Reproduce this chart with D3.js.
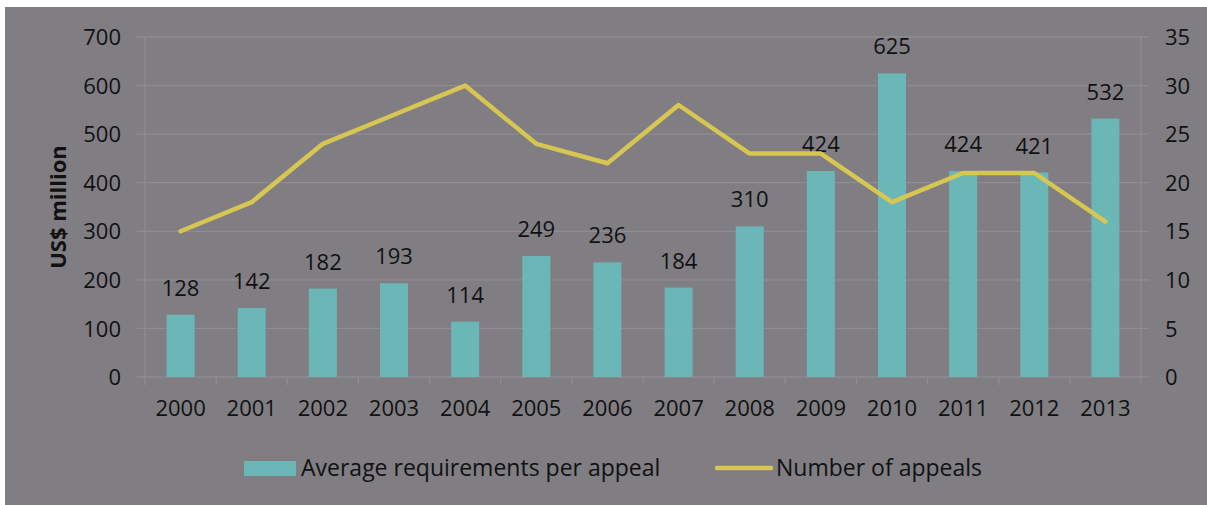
<!DOCTYPE html>
<html>
<head>
<meta charset="utf-8">
<script src="https://cdn.jsdelivr.net/npm/d3@7"></script>
<style>
  html, body { margin: 0; padding: 0; background: #ffffff; }
  svg { display: block; }
  text { font-family: "Open Sans", sans-serif; fill: #111111; }
</style>
</head>
<body>
<svg id="chart" width="1207" height="505"></svg>
<script>
const years = ["2000","2001","2002","2003","2004","2005","2006","2007","2008","2009","2010","2011","2012","2013"];
const avgRequirements = [128,142,182,193,114,249,236,184,310,424,625,424,421,532];
const numAppeals = [15,18,24,27,30,24,22,28,23,23,18,21,21,16];
const leftTicks = [0,100,200,300,400,500,600,700];
const rightTicks = [0,5,10,15,20,25,30,35];

(function () {
const svg = d3.select("#chart");
const W = 1207, H = 505;
const bg = "#807e83", grid = "#8e8d91", barColor = "#6bb6b7", lineColor = "#d7c652";

svg.append("rect").attr("x", 5).attr("y", 7).attr("width", W - 5).attr("height", H - 7).attr("fill", bg);

const pl = 145, pr = 1141, pt = 37, pb = 377;

const xBand = d3.scaleBand().domain(years).range([pl, pr]);
const yL = d3.scaleLinear().domain([0, 700]).range([pb, pt]);
const yR = d3.scaleLinear().domain([0, 35]).range([pb, pt]);

// gridlines
svg.append("g").selectAll("line").data(leftTicks).join("line")
  .attr("x1", pl - 8).attr("x2", pr + 8)
  .attr("y1", d => yL(d)).attr("y2", d => yL(d))
  .attr("stroke", grid).attr("stroke-width", 1.3);

// axis lines
svg.append("line").attr("x1", pl).attr("x2", pl).attr("y1", pt).attr("y2", pb + 8).attr("stroke", grid).attr("stroke-width", 1.3);
svg.append("line").attr("x1", pr).attr("x2", pr).attr("y1", pt).attr("y2", pb + 8).attr("stroke", grid).attr("stroke-width", 1.3);
// category ticks
svg.append("g").selectAll("line").data(years.slice(1)).join("line")
  .attr("x1", d => xBand(d)).attr("x2", d => xBand(d))
  .attr("y1", pb).attr("y2", pb + 8)
  .attr("stroke", grid).attr("stroke-width", 1.3);

// left axis labels
const axL = d3.axisLeft(yL).tickValues(leftTicks).tickSize(0).tickPadding(0);
const gL = svg.append("g").attr("transform", `translate(${pl - 24},0)`).call(axL);
gL.select(".domain").remove();
gL.selectAll("text").style("font-size", "22px").style("font-family", "'Open Sans', sans-serif").attr("fill", "#111").attr("dy", "0.35em");

// right axis labels
const axR = d3.axisRight(yR).tickValues(rightTicks).tickSize(0).tickPadding(0);
const gR = svg.append("g").attr("transform", `translate(${pr + 24},0)`).call(axR);
gR.select(".domain").remove();
gR.selectAll("text").style("font-size", "22px").style("font-family", "'Open Sans', sans-serif").attr("fill", "#111").attr("dy", "0.35em");

// bottom axis labels
const axB = d3.axisBottom(xBand).tickSize(0).tickPadding(0);
const gB = svg.append("g").attr("transform", `translate(0,${pb + 22})`).call(axB);
gB.select(".domain").remove();
gB.selectAll("text").style("font-size", "22px").style("font-family", "'Open Sans', sans-serif").attr("fill", "#111").attr("dy", "0.75em");

// bars
svg.append("g").selectAll("rect").data(years).join("rect")
  .attr("x", d => xBand(d) + xBand.bandwidth() / 2 - 14)
  .attr("width", 28)
  .attr("y", (d, i) => yL(avgRequirements[i]))
  .attr("height", (d, i) => yL(0) - yL(avgRequirements[i]))
  .attr("fill", barColor);

// value labels
svg.append("g").selectAll("text").data(years).join("text")
  .attr("x", d => xBand(d) + xBand.bandwidth() / 2)
  .attr("y", (d, i) => yL(avgRequirements[i]) - 19)
  .attr("text-anchor", "middle")
  .style("font-size", "22px")
  .text((d, i) => avgRequirements[i]);

// line
const line = d3.line()
  .x((d, i) => xBand(years[i]) + xBand.bandwidth() / 2)
  .y(d => yR(d));
svg.append("path").datum(numAppeals)
  .attr("d", line)
  .attr("fill", "none")
  .attr("stroke", lineColor)
  .attr("stroke-width", 4.5)
  .attr("stroke-linecap", "round")
  .attr("stroke-linejoin", "round");

// y label
svg.append("text")
  .attr("transform", "translate(66,207) rotate(-90)")
  .attr("text-anchor", "middle")
  .style("font-size", "22px").style("font-weight", "bold")
  .text("US$ million");

// legend
svg.append("rect").attr("x", 244).attr("y", 461).attr("width", 52).attr("height", 15).attr("fill", barColor);
svg.append("text").attr("x", 301).attr("y", 468).attr("dy", "0.35em").style("font-size", "23px").text("Average requirements per appeal");
svg.append("line").attr("x1", 717).attr("x2", 771).attr("y1", 468).attr("y2", 468)
  .attr("stroke", lineColor).attr("stroke-width", 4.5).attr("stroke-linecap", "round");
svg.append("text").attr("x", 776).attr("y", 468).attr("dy", "0.35em").style("font-size", "23px").text("Number of appeals");
})();
</script>
</body>
</html>
